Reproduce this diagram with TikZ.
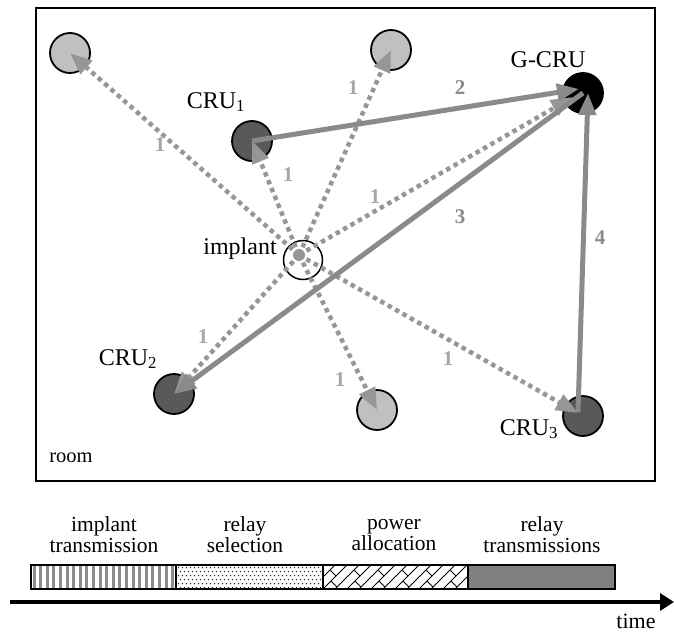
\documentclass[tikz,border=0pt]{standalone}
\usepackage{fontspec}
\setmainfont{Liberation Serif}
\usetikzlibrary{arrows.meta,calc}
\definecolor{lightnode}{HTML}{C0C0C0}
\definecolor{darknode}{HTML}{595959}
\definecolor{linkgray}{HTML}{8A8A8A}
\definecolor{dotgray}{HTML}{969696}
\definecolor{labgray}{HTML}{A6A6A6}
\definecolor{busygray}{HTML}{808080}

\begin{document}
\begin{tikzpicture}[x=1pt,y=-1pt,
  station/.style={circle, draw=black, line width=1.8pt, minimum size=40pt, inner sep=0pt},
  relaycand/.style={station, fill=lightnode},
  relay/.style={station, fill=darknode},
  gcru/.style={station, fill=black},
  unitlabel/.style={font=\fontsize{24}{26}\selectfont, inner sep=0pt},
  hop/.style={font=\bfseries\fontsize{21}{23}\selectfont, text=labgray, inner sep=0pt},
  hopb/.style={hop, text=linkgray},
  bcast/.style={draw=dotgray, line width=4.5pt, dash pattern=on 4.5pt off 4pt,
    -{Triangle[length=22pt,width=17pt]}},
  fwd/.style={draw=linkgray, line width=5pt, -{Triangle[length=22pt,width=17pt]}},
  phasetext/.style={font=\fontsize{21.5}{21}\selectfont, align=center, inner sep=0pt},
]
\useasboundingbox (0,0) rectangle (674,632);

% room outline
\draw[line width=2.5pt] (36,8) rectangle (655,481);
\node[font=\fontsize{20.5}{22}\selectfont, inner sep=0pt] (roomlabel) at (71,458) {room};

% candidate relays, chosen relays and the gateway
\node[relaycand] (c1) at (70,53) {};
\node[relaycand] (c2) at (391,50) {};
\node[relaycand] (c3) at (377,410) {};
\node[relay] (cru1) at (252,141) {};
\node[relay] (cru2) at (174,394) {};
\node[relay] (cru3) at (583,416) {};
\node[gcru] (g) at (583,93) {};

% implant
\node[circle, draw=black, line width=1.5pt, minimum size=39pt, inner sep=0pt] (imp) at (303,260) {};
\node[circle, fill=dotgray, minimum size=12pt, inner sep=0pt] (src) at (299,255) {};

% station names
\node[unitlabel] (l1) at (216,102) {CRU\textsubscript{1}};
\node[unitlabel] (l2) at (128,359) {CRU\textsubscript{2}};
\node[unitlabel] (l3) at (529,429) {CRU\textsubscript{3}};
\node[unitlabel] (lg) at (548,60) {G-CRU};
\node[unitlabel] (li) at (240,249) {implant};

% step 1: implant broadcast
\draw[bcast] (src.center) -- (c1.center);
\draw[bcast] (src.center) -- (cru1.center);
\draw[bcast] (src.center) -- (c2.center);
\draw[bcast] (src.center) -- ($(g.center)+(-10,4)$);
\draw[bcast] (src.center) -- (cru2.center);
\draw[bcast] (src.center) -- (c3.center);
\draw[bcast] (src.center) -- ($(cru3.center)+(-5,-3)$);

% steps 2-4: relay forwarding
\draw[fwd] (cru1.center) -- ($(g.center)+(-4,-4)$);
\draw[fwd] (g.center) -- (cru2.center);
\draw[fwd] ($(cru3.center)+(-5,-4)$) -- ($(g.center)+(5,0)$);

% step numbers
\node[hop] (h1a) at (160,145) {1};
\node[hop] (h1b) at (288,175) {1};
\node[hop] (h1c) at (353,88) {1};
\node[hop] (h1d) at (375,197) {1};
\node[hop] (h1e) at (203,337) {1};
\node[hop] (h1f) at (340,380) {1};
\node[hop] (h1g) at (448,359) {1};
\node[hopb] (h2) at (460,88) {2};
\node[hopb] (h3) at (460,217) {3};
\node[hopb] (h4) at (600,238) {4};

% timeline phases
\node[phasetext] (p1) at (104,535) {implant\\transmission};
\node[phasetext] (p2) at (245,535) {relay\\selection};
\node[phasetext] (p3) at (394,535) {power\\allocation};
\node[phasetext] (p4) at (542,535) {relay\\transmissions};

% implant transmission: vertical stripes
\foreach \x in {0,...,21}
  \draw[black!45, line width=3pt] ({34+\x*6.6},565) -- ({34+\x*6.6},589);
% relay selection: dots
\foreach \i in {0,...,35}
  \foreach \j in {0,...,5}
    \fill[black!85] ({178.5+\i*4+mod(\j,2)*2},{567.5+\j*4}) circle (0.75pt);
% power allocation: diagonal bricks
\begin{scope}
  \clip (323,565) rectangle (468,589);
  \foreach \k in {-2,...,12} {
    \draw[line width=1pt] ({323+\k*12},589) -- ++(24,-24);
    \pgfmathsetmacro{\a}{ifthenelse(mod(\k,2)==0,8,19)}
    \draw[line width=1pt] ({323+\k*12+\a},{589-\a}) -- ++(6,6);
  }
\end{scope}
% relay transmissions: solid
\fill[busygray] (468,565) rectangle (615,589);
\draw[line width=1.5pt] (31,565) rectangle (615,589);
\foreach \x in {176,323,468}
  \draw[line width=1.5pt] (\x,565) -- (\x,589);

% time axis
\coordinate (t0) at (10,602);
\coordinate (t1) at (674,602);
\draw[line width=3.5pt, -{Triangle[length=14pt,width=17pt]}] (t0) -- (t1);
\node[font=\fontsize{22}{24}\selectfont, inner sep=0pt] (tlabel) at (636,621) {time};
\end{tikzpicture}
\end{document}
